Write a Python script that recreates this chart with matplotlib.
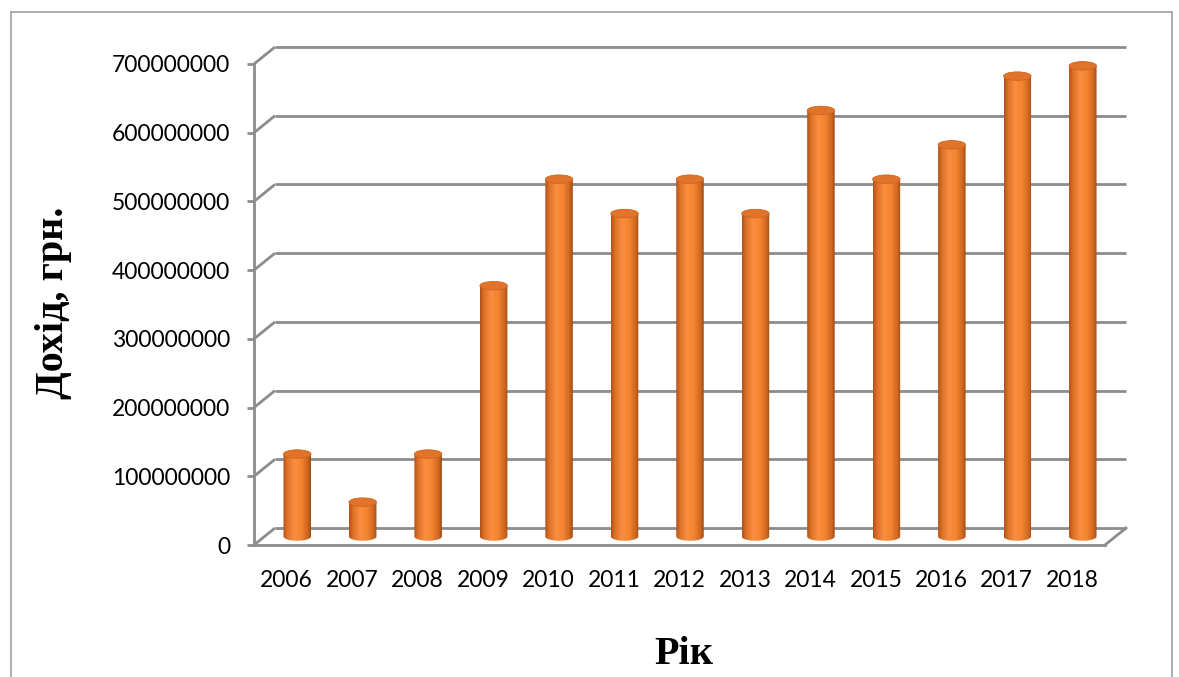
import numpy as np
import matplotlib
matplotlib.use("Agg")
import matplotlib.pyplot as plt
from matplotlib.patches import Polygon, Ellipse
from matplotlib.colors import LinearSegmentedColormap
from matplotlib.lines import Line2D
from matplotlib.ticker import FuncFormatter

# Дохід по роках, грн.
years = ['2006', '2007', '2008', '2009', '2010', '2011', '2012',
         '2013', '2014', '2015', '2016', '2017', '2018']
income = np.array([120, 50, 120, 365, 520, 470, 520,
                   470, 620, 520, 570, 670, 685]) * 1e6
yticks = np.arange(0, 700e6 + 1, 100e6)

W, H = 1179, 677
fig = plt.figure(figsize=(W / 100, H / 100), dpi=100)
fig.patch.set_facecolor('white')

# область побудови (передня площина)
ax = fig.add_axes([254 / W, 132 / H, 851 / W, 481 / H])
ax.set_xlim(-0.5, len(years) - 0.5)
ax.set_ylim(0, 700e6)

grid_c = '#8c8c8c'
lw = 2.0
# глибина "3D" у координатах даних
dx = 21 / 851 * len(years)
dy = 17 / 481 * 700e6

# задня стінка: лінії сітки з косими відрізками на лівій стінці
x0, x1 = -0.5, len(years) - 0.5
for v in yticks:
    ax.plot([x0, x0 + dx], [v, v + dy], color=grid_c, lw=lw,
            clip_on=False, zorder=1, solid_capstyle='butt')
    ax.plot([x0 + dx, x1 + dx], [v + dy, v + dy], color=grid_c, lw=lw,
            clip_on=False, zorder=1, solid_capstyle='butt')
# правий край підлоги
ax.plot([x1, x1 + dx], [0, dy], color=grid_c, lw=lw, clip_on=False, zorder=1)

# циліндри
cyl = LinearSegmentedColormap.from_list(
    'cyl', [(0.0, '#b0531a'), (0.15, '#de7328'), (0.4, '#fa8d40'),
            (0.65, '#f4842f'), (0.88, '#cf6822'), (1.0, '#a04c17')])
grad = np.linspace(0, 1, 64).reshape(1, -1)
bw = 27.5 / 851 * len(years)
eh = 8.5 / 481 * 700e6
base = dy / 2
t = np.linspace(np.pi, 2 * np.pi, 40)
for i, v in enumerate(income):
    xc = i + dx / 2
    top = base + v
    pts = [(xc - bw / 2, top), (xc - bw / 2, base)]
    pts += list(zip(xc + bw / 2 * np.cos(t), base + eh / 2 * np.sin(t)))
    pts += [(xc + bw / 2, top)]
    body = Polygon(pts, closed=True, facecolor='none', edgecolor='none', zorder=3)
    ax.add_patch(body)
    im = ax.imshow(grad, cmap=cyl, aspect='auto', zorder=3,
                   extent=[xc - bw / 2, xc + bw / 2, base - eh / 2, top])
    im.set_clip_path(body)
    ax.add_patch(Ellipse((xc, top), bw, eh, facecolor='#e2732a',
                         edgecolor='#cc6620', lw=0.6, zorder=4, clip_on=False))

ax.set_xlim(-0.5, len(years) - 0.5)
ax.set_ylim(0, 700e6)

# осі
for s in ['top', 'right']:
    ax.spines[s].set_visible(False)
for s in ['left', 'bottom']:
    ax.spines[s].set_color(grid_c)
    ax.spines[s].set_linewidth(lw)
ax.set_yticks(yticks)
ax.yaxis.set_major_formatter(FuncFormatter(lambda v, p: f'{int(round(v))}'))
ax.set_xticks(range(len(years)))
ax.set_xticklabels(years)
ax.tick_params(axis='y', length=5, width=lw, color=grid_c, pad=12,
               labelsize=16.5, labelcolor='black')
ax.tick_params(axis='x', length=0, pad=18, labelsize=16.5, labelcolor='black')
for lab in ax.get_xticklabels() + ax.get_yticklabels():
    lab.set_family('Lato')

fig.text(54 / W, 1 - 303 / H, 'Дохід, грн.', rotation=90, ha='center',
         va='center', family='Liberation Serif', weight='bold', fontsize=29)
fig.text(684 / W, 1 - 654 / H, 'Рік', ha='center', va='center',
         family='Liberation Serif', weight='bold', fontsize=29)

# рамка діаграми (нижній край за межами зображення)
fc = '#a0a0a0'
for xs, ys in [([10.5, 10.5], [H, 12]), ([10.5, 1172], [12, 12]),
               ([1172, 1172], [12, H])]:
    fig.add_artist(Line2D([x / W for x in xs], [1 - y / H for y in ys],
                          color=fc, lw=1.2))

fig.savefig('out.png', dpi=100)
